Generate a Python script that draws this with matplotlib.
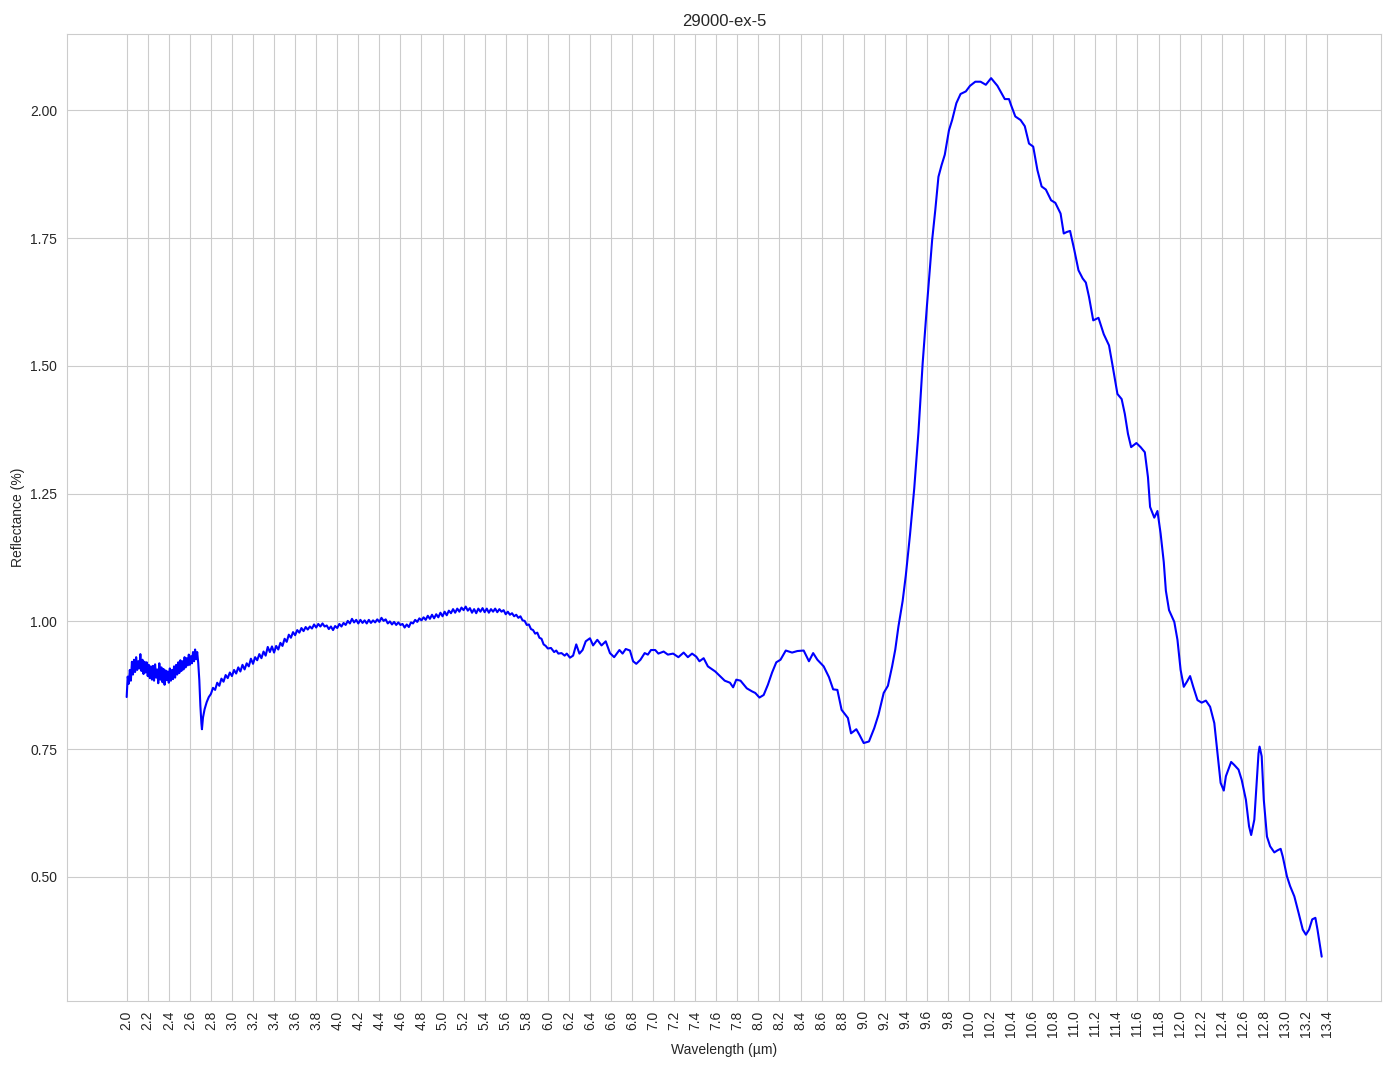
import numpy as np
import matplotlib
matplotlib.use("Agg")
import matplotlib.pyplot as plt
import seaborn as sns

# spectrum, in three pieces
# noisy start 2.0 - 2.7 um
wl_start = [2.00, 2.01, 2.02, 2.03, 2.04, 2.05, 2.06, 2.07, 2.08, 2.09,
            2.10, 2.11, 2.12, 2.13, 2.14, 2.15, 2.16, 2.17, 2.18, 2.19,
            2.20, 2.21, 2.22, 2.23, 2.24, 2.25, 2.26, 2.27, 2.28, 2.29,
            2.30, 2.31, 2.32, 2.33, 2.34, 2.35, 2.36, 2.37, 2.38, 2.39,
            2.40, 2.41, 2.42, 2.43, 2.44, 2.45, 2.46, 2.47, 2.48, 2.49,
            2.50, 2.51, 2.52, 2.53, 2.54, 2.55, 2.56, 2.57, 2.58, 2.59,
            2.60, 2.61, 2.62, 2.63, 2.64, 2.65, 2.66, 2.67, 2.68, 2.69,
            2.70, 2.71, 2.715]
refl_start = [0.852, 0.892, 0.878, 0.905, 0.884, 0.921, 0.896, 0.925, 0.901, 0.930,
              0.905, 0.922, 0.908, 0.936, 0.903, 0.925, 0.897, 0.921, 0.900, 0.920,
              0.893, 0.915, 0.889, 0.912, 0.886, 0.913, 0.884, 0.916, 0.890, 0.906,
              0.879, 0.918, 0.886, 0.910, 0.881, 0.907, 0.876, 0.904, 0.885, 0.902,
              0.880, 0.908, 0.884, 0.905, 0.887, 0.912, 0.890, 0.915, 0.896, 0.920,
              0.899, 0.924, 0.903, 0.922, 0.906, 0.930, 0.910, 0.928, 0.914, 0.935,
              0.915, 0.932, 0.918, 0.940, 0.922, 0.945, 0.926, 0.940, 0.918, 0.885,
              0.835, 0.800, 0.789]

# recovery and plateau 2.7 - 6.0 um
wl_mid = [2.725, 2.74, 2.76, 2.78, 2.80, 2.82, 2.84, 2.86, 2.88, 2.90,
          2.92, 2.94, 2.96, 2.98, 3.00, 3.02, 3.04, 3.06, 3.08, 3.10,
          3.12, 3.14, 3.16, 3.18, 3.20, 3.22, 3.24, 3.26, 3.28, 3.30,
          3.32, 3.34, 3.36, 3.38, 3.40, 3.42, 3.44, 3.46, 3.48, 3.50,
          3.52, 3.54, 3.56, 3.58, 3.60, 3.62, 3.64, 3.66, 3.68, 3.70,
          3.72, 3.74, 3.76, 3.78, 3.80, 3.82, 3.84, 3.86, 3.88, 3.90,
          3.92, 3.94, 3.96, 3.98, 4.00, 4.02, 4.04, 4.06, 4.08, 4.10,
          4.12, 4.14, 4.16, 4.18, 4.20, 4.22, 4.24, 4.26, 4.28, 4.30,
          4.32, 4.34, 4.36, 4.38, 4.40, 4.42, 4.44, 4.46, 4.48, 4.50,
          4.52, 4.54, 4.56, 4.58, 4.60, 4.62, 4.64, 4.66, 4.68, 4.70,
          4.72, 4.74, 4.76, 4.78, 4.80, 4.82, 4.84, 4.86, 4.88, 4.90,
          4.92, 4.94, 4.96, 4.98, 5.00, 5.02, 5.04, 5.06, 5.08, 5.10,
          5.12, 5.14, 5.16, 5.18, 5.20, 5.22, 5.24, 5.26, 5.28, 5.30,
          5.32, 5.34, 5.36, 5.38, 5.40, 5.42, 5.44, 5.46, 5.48, 5.50,
          5.52, 5.54, 5.56, 5.58, 5.60, 5.62, 5.64, 5.66, 5.68, 5.70,
          5.72, 5.74, 5.76, 5.78, 5.80, 5.82, 5.84, 5.86, 5.88, 5.90,
          5.92, 5.94, 5.96, 5.98]
refl_mid = [0.812, 0.828, 0.842, 0.852, 0.858, 0.870, 0.866, 0.880, 0.874, 0.888,
            0.882, 0.895, 0.889, 0.900, 0.893, 0.905, 0.898, 0.910, 0.902, 0.915,
            0.906, 0.918, 0.912, 0.927, 0.917, 0.930, 0.924, 0.936, 0.928, 0.941,
            0.933, 0.950, 0.940, 0.951, 0.939, 0.952, 0.945, 0.958, 0.952, 0.966,
            0.960, 0.974, 0.968, 0.979, 0.973, 0.983, 0.978, 0.987, 0.981, 0.989,
            0.984, 0.990, 0.986, 0.994, 0.988, 0.995, 0.990, 0.996, 0.990, 0.992,
            0.985, 0.990, 0.983, 0.991, 0.987, 0.995, 0.990, 0.997, 0.993, 1.001,
            0.996, 1.005, 0.998, 1.003, 0.996, 1.003, 0.997, 1.002, 0.996, 1.003,
            0.997, 1.002, 0.998, 1.004, 0.999, 1.007, 1.001, 1.004, 0.996, 1.000,
            0.994, 0.999, 0.993, 0.998, 0.993, 0.995, 0.988, 0.994, 0.989, 0.998,
            0.996, 1.003, 0.999, 1.006, 1.002, 1.008, 1.003, 1.011, 1.005, 1.013,
            1.006, 1.014, 1.008, 1.017, 1.010, 1.019, 1.012, 1.021, 1.016, 1.024,
            1.017, 1.025, 1.019, 1.027, 1.022, 1.029, 1.021, 1.026, 1.017, 1.024,
            1.016, 1.025, 1.019, 1.026, 1.018, 1.025, 1.017, 1.024, 1.019, 1.025,
            1.018, 1.024, 1.019, 1.022, 1.014, 1.019, 1.013, 1.016, 1.010, 1.013,
            1.007, 1.010, 1.002, 1.001, 0.993, 0.994, 0.985, 0.983, 0.976, 0.978,
            0.968, 0.966, 0.955, 0.952]

# smoother tail 6.0 - 13.35 um
wl_end = [6.00, 6.03, 6.06, 6.08, 6.10, 6.13, 6.16, 6.18, 6.21, 6.24,
          6.27, 6.30, 6.33, 6.36, 6.40, 6.43, 6.47, 6.51, 6.55, 6.59,
          6.63, 6.68, 6.71, 6.74, 6.78, 6.81, 6.84, 6.88, 6.92, 6.95,
          6.98, 7.02, 7.05, 7.10, 7.14, 7.19, 7.24, 7.29, 7.33, 7.37,
          7.41, 7.44, 7.48, 7.52, 7.59, 7.64, 7.68, 7.73, 7.76, 7.79,
          7.83, 7.89, 7.94, 7.97, 8.01, 8.05, 8.09, 8.13, 8.17, 8.21,
          8.26, 8.32, 8.37, 8.43, 8.48, 8.52, 8.56, 8.62, 8.67, 8.71,
          8.75, 8.79, 8.85, 8.88, 8.93, 8.96, 9.00, 9.05, 9.10, 9.14,
          9.19, 9.23, 9.27, 9.30, 9.33, 9.37, 9.40, 9.44, 9.48, 9.52,
          9.56, 9.60, 9.65, 9.68, 9.71, 9.74, 9.77, 9.81, 9.84, 9.88,
          9.92, 9.97, 10.01, 10.06, 10.11, 10.16, 10.21, 10.27, 10.31, 10.34,
          10.38, 10.40, 10.44, 10.49, 10.53, 10.57, 10.61, 10.65, 10.69, 10.73,
          10.78, 10.82, 10.87, 10.90, 10.93, 10.96, 11.00, 11.04, 11.08, 11.11,
          11.14, 11.18, 11.23, 11.28, 11.33, 11.36, 11.41, 11.45, 11.48, 11.51,
          11.54, 11.59, 11.63, 11.67, 11.70, 11.72, 11.76, 11.79, 11.82, 11.85,
          11.87, 11.90, 11.95, 11.98, 12.01, 12.04, 12.07, 12.10, 12.13, 12.17,
          12.21, 12.25, 12.29, 12.33, 12.36, 12.39, 12.42, 12.44, 12.49, 12.52,
          12.56, 12.59, 12.63, 12.66, 12.68, 12.71, 12.73, 12.75, 12.76, 12.78,
          12.80, 12.83, 12.86, 12.90, 12.93, 12.96, 12.98, 13.02, 13.05, 13.09,
          13.13, 13.17, 13.20, 13.23, 13.26, 13.29, 13.31, 13.33, 13.35]
refl_end = [0.947, 0.948, 0.940, 0.943, 0.937, 0.938, 0.933, 0.937, 0.929, 0.933,
            0.955, 0.937, 0.944, 0.961, 0.967, 0.953, 0.964, 0.953, 0.961, 0.938,
            0.930, 0.944, 0.937, 0.946, 0.943, 0.922, 0.917, 0.925, 0.938, 0.935,
            0.944, 0.944, 0.937, 0.941, 0.935, 0.937, 0.930, 0.939, 0.930, 0.937,
            0.931, 0.922, 0.928, 0.912, 0.902, 0.892, 0.884, 0.880, 0.871, 0.886,
            0.884, 0.869, 0.863, 0.860, 0.851, 0.856, 0.876, 0.900, 0.920, 0.925,
            0.943, 0.939, 0.942, 0.943, 0.922, 0.938, 0.925, 0.912, 0.891, 0.867,
            0.866, 0.827, 0.811, 0.781, 0.789, 0.778, 0.762, 0.765, 0.791, 0.817,
            0.860, 0.874, 0.912, 0.945, 0.990, 1.040, 1.090, 1.170, 1.260, 1.370,
            1.505, 1.616, 1.746, 1.805, 1.870, 1.893, 1.913, 1.961, 1.981, 2.014,
            2.032, 2.037, 2.048, 2.056, 2.056, 2.050, 2.063, 2.048, 2.033, 2.022,
            2.022, 2.010, 1.988, 1.981, 1.969, 1.935, 1.929, 1.883, 1.851, 1.845,
            1.824, 1.819, 1.798, 1.759, 1.762, 1.764, 1.727, 1.687, 1.671, 1.663,
            1.635, 1.589, 1.594, 1.562, 1.540, 1.505, 1.445, 1.435, 1.406, 1.367,
            1.341, 1.349, 1.341, 1.331, 1.282, 1.224, 1.203, 1.216, 1.172, 1.116,
            1.060, 1.022, 0.999, 0.964, 0.905, 0.872, 0.882, 0.893, 0.872, 0.846,
            0.841, 0.845, 0.833, 0.801, 0.742, 0.684, 0.669, 0.697, 0.725, 0.719,
            0.710, 0.690, 0.651, 0.599, 0.582, 0.612, 0.677, 0.742, 0.755, 0.736,
            0.651, 0.579, 0.560, 0.548, 0.552, 0.555, 0.540, 0.501, 0.482, 0.462,
            0.430, 0.397, 0.387, 0.397, 0.417, 0.420, 0.397, 0.371, 0.344]

wavelength = wl_start + wl_mid + wl_end
reflectance = refl_start + refl_mid + refl_end

sns.set_style("whitegrid")
plt.rcParams['font.family'] = ['Liberation Sans', 'DejaVu Sans']

fig, ax = plt.subplots(figsize=(13.94, 10.69), dpi=100)
fig.subplots_adjust(left=0.048, right=0.991, top=0.968, bottom=0.064)

ax.plot(wavelength, reflectance, color='blue', linewidth=1.5)

xt = np.arange(2.0, 13.41, 0.2)
ax.set_xticks(xt)
ax.set_xticklabels([f'{t:.1f}' for t in xt], rotation=90)
ax.set_title('29000-ex-5')
ax.set_xlabel('Wavelength (µm)')
ax.set_ylabel('Reflectance (%)')

fig.savefig('out.png', dpi=100)
